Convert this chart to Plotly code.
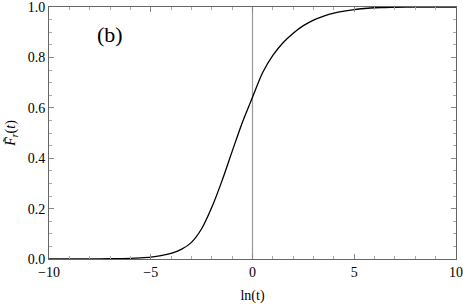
import plotly.graph_objects as go

ln_t = [-10, -9, -8, -7, -6, -5.5, -5, -4.5, -4, -3.5, -3, -2.5, -2, -1.5, -1, -0.5, 0,
        0.5, 1, 1.5, 2, 2.5, 3, 3.5, 4, 4.5, 5, 5.5, 6, 6.5, 7, 8, 9, 10]
F_r = [0.0, 0.0001, 0.0004, 0.001, 0.0025, 0.0045, 0.0075, 0.013, 0.022, 0.038, 0.066, 0.12, 0.205, 0.31, 0.427, 0.542, 0.642,
       0.740, 0.808, 0.858, 0.896, 0.926, 0.948, 0.964, 0.976, 0.984, 0.990, 0.994, 0.997, 0.998, 0.999, 1.0, 1.0, 1.0]

x_ticks = [-10, -5, 0, 5, 10]
y_ticks = [0.0, 0.2, 0.4, 0.6, 0.8, 1.0]

FONT = "Liberation Serif, Times New Roman, Times, serif"

fig = go.Figure()
fig.add_trace(go.Scatter(x=[0, 0], y=[0, 1], mode="lines",
                         line=dict(color="#999999", width=1.2), hoverinfo="skip"))
fig.add_trace(go.Scatter(x=ln_t, y=F_r, mode="lines",
                         line=dict(color="black", width=1.3, shape="spline", smoothing=0.8)))

axis_common = dict(showgrid=False, zeroline=False, showline=True, linecolor="#666666", linewidth=1,
                   mirror="allticks", ticks="inside", ticklen=5, tickcolor="#888888", automargin=False,
                   ticklabeloverflow="allow",
                   tickfont=dict(family=FONT, size=14, color="black"))

fig.update_xaxes(range=[-10, 10], tickvals=x_ticks,
                 minor=dict(ticks="inside", dtick=1, ticklen=3, tickcolor="#aaaaaa"),
                 title=dict(text="ln(t)", font=dict(family=FONT, size=14, color="black"), standoff=11),
                 **axis_common)
fig.update_yaxes(range=[0, 1], tickvals=y_ticks, tickformat=".1f",
                 minor=dict(ticks="inside", dtick=0.05, ticklen=3, tickcolor="#aaaaaa"),
                 title=dict(text="<i>F̃</i><sub><i>r</i></sub>(<i>t</i>)", font=dict(family=FONT, size=14, color="black"), standoff=8),
                 **axis_common)

fig.add_annotation(x=-7, y=0.889, text="(b)", showarrow=False,
                   font=dict(family=FONT, size=22, color="black"))

fig.update_layout(width=463, height=304, margin=dict(l=49, r=7, t=7, b=45),
                  plot_bgcolor="white", paper_bgcolor="white", showlegend=False)

fig.write_html("out.html", config={"displayModeBar": False},
               post_script="document.body.style.margin='0';document.body.style.padding='0';")
